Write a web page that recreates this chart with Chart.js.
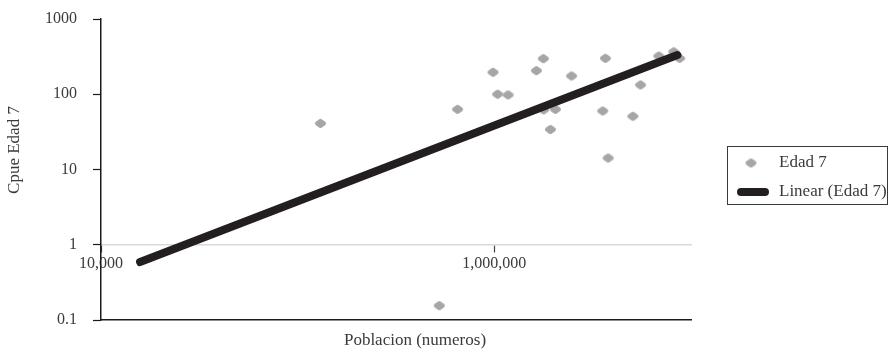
<!DOCTYPE html>
<html>
<head>
<meta charset="utf-8">
<script src="https://cdn.jsdelivr.net/npm/chart.js@4.4.1/dist/chart.umd.min.js"></script>
<style>
  html, body { margin: 0; padding: 0; background: #fff; }
  #wrap { width: 896px; height: 352px; position: relative; }
</style>
</head>
<body>
<div id="wrap"><canvas id="c" width="896" height="352"></canvas></div>
<script>
// Population (x) and CPUE for age 7 (y), one entry per observation
const poblacion = [130600, 650000, 525000, 985000, 1040000, 1175000, 1637000, 1775000, 1782000, 2044000,
                   1928000, 2470000, 3670000, 3558000, 3790000, 5060000, 5540000, 6860000, 8170000, 8750000];
const cpueEdad7 = [41, 63, 0.155, 196, 100, 98, 206, 297, 62, 63,
                   34, 175, 300, 60, 14.2, 51, 133, 322, 367, 300];

// Trend line end points
const trendX = [15800, 8530000];
const trendY = [0.59, 332];

// Axis ticks and labels
const yTicks = [0.1, 1, 10, 100, 1000];
const yTickLabels = ['0.1', '1', '10', '100', '1000'];
const xTicks = [10000, 1000000];
const xTickLabels = ['10,000', '1,000,000'];

const seriesNames = ['Edad 7', 'Linear (Edad 7)'];
const xTitle = 'Poblacion (numeros)';
const yTitle = 'Cpue Edad 7';

const FONT = '"Liberation Serif", "Times New Roman", serif';
const TEXT = '#3a3a3a';
const MARKER = '#a6a6a8';
const LINE = '#231f20';

// rounded diamond used as the scatter marker
function diamond(color) {
  const c = document.createElement('canvas');
  c.width = 13; c.height = 11;
  const g = c.getContext('2d');
  g.fillStyle = color; g.strokeStyle = color;
  g.lineWidth = 4; g.lineJoin = 'round';
  g.beginPath();
  g.moveTo(6.5, 3); g.lineTo(10, 5.5); g.lineTo(6.5, 8); g.lineTo(3, 5.5);
  g.closePath(); g.fill(); g.stroke();
  return c;
}
const marker = diamond(MARKER);

// axis titles and the boxed legend
const extras = {
  id: 'extras',
  afterDraw(chart) {
    const { ctx, chartArea: a } = chart;
    ctx.save();
    ctx.fillStyle = TEXT;
    ctx.font = '17px ' + FONT;
    ctx.textBaseline = 'middle';

    // y title
    ctx.save();
    ctx.translate(a.left - 86, a.top + 131);
    ctx.rotate(-Math.PI / 2);
    ctx.textAlign = 'center';
    ctx.fillText(yTitle, 0, 0);
    ctx.restore();

    // x title
    ctx.textAlign = 'center';
    ctx.fillText(xTitle, a.left + 314, a.bottom + 21);

    // legend
    const bx = a.right + 36, by = a.top + 127, bw = 160, bh = 58;
    ctx.strokeStyle = '#3a3a3a';
    ctx.lineWidth = 1;
    ctx.strokeRect(Math.round(bx) + 0.5, Math.round(by) + 0.5, bw, bh);

    ctx.drawImage(marker, bx + 24 - marker.width / 2, by + 17 - marker.height / 2);
    ctx.strokeStyle = LINE;
    ctx.lineWidth = 8;
    ctx.lineCap = 'round';
    ctx.beginPath();
    ctx.moveTo(bx + 14, by + 46);
    ctx.lineTo(bx + 38, by + 46);
    ctx.stroke();

    ctx.fillStyle = TEXT;
    ctx.textAlign = 'left';
    ctx.fillText(seriesNames[0], bx + 52, by + 17);
    ctx.fillText(seriesNames[1], bx + 52, by + 46);
    ctx.restore();
  }
};

const tickFont = { family: FONT, size: 16 };

new Chart(document.getElementById('c'), {
  data: {
    datasets: [
      {
        type: 'scatter',
        label: seriesNames[0],
        data: poblacion.map((x, i) => ({ x, y: cpueEdad7[i] })),
        pointStyle: marker,
        backgroundColor: MARKER,
        borderColor: MARKER,
        xAxisID: 'x', yAxisID: 'y',
        order: 1
      },
      {
        type: 'line',
        label: seriesNames[1],
        data: trendX.map((x, i) => ({ x, y: trendY[i] })),
        borderColor: LINE,
        borderWidth: 8,
        borderCapStyle: 'round',
        pointRadius: 0,
        fill: false,
        xAxisID: 'x', yAxisID: 'y',
        order: 0
      }
    ]
  },
  options: {
    responsive: false,
    animation: false,
    devicePixelRatio: 1,
    layout: { padding: { top: 19, right: 205, bottom: 32, left: 0 } },
    plugins: { legend: { display: false }, tooltip: { enabled: false } },
    scales: {
      x: {
        type: 'logarithmic',
        min: 10000, max: 10000000,
        position: { y: 1 },
        afterBuildTicks: s => { s.ticks = xTicks.map(v => ({ value: v })); },
        afterFit: s => { s.height = 0; },
        ticks: {
          callback: (v, i) => xTickLabels[i],
          font: tickFont, color: TEXT, padding: 2,
          maxRotation: 0, autoSkip: false
        },
        grid: { drawOnChartArea: false, drawTicks: true, tickLength: 7, tickColor: '#404040', tickWidth: 1.2 },
        border: { color: '#d9d9d9', width: 1.5 }
      },
      xb: {
        type: 'linear',
        position: 'bottom',
        min: 0, max: 1,
        afterFit: s => { s.height = 0; },
        ticks: { display: false },
        grid: { display: false },
        border: { color: '#1a1a1a', width: 1.5 }
      },
      y: {
        type: 'logarithmic',
        min: 0.1, max: 1000,
        position: 'left',
        afterBuildTicks: s => { s.ticks = yTicks.map(v => ({ value: v })); },
        afterFit: s => { s.width = 101; s.paddingTop = 0; s.paddingBottom = 0; },
        ticks: {
          callback: (v, i) => yTickLabels[i],
          font: tickFont, color: TEXT, padding: 16
        },
        grid: { drawOnChartArea: false, drawTicks: true, tickLength: 8, tickColor: '#1a1a1a', tickWidth: 1.2 },
        border: { color: '#1a1a1a', width: 1.5 }
      }
    }
  },
  plugins: [extras]
});
</script>
</body>
</html>
